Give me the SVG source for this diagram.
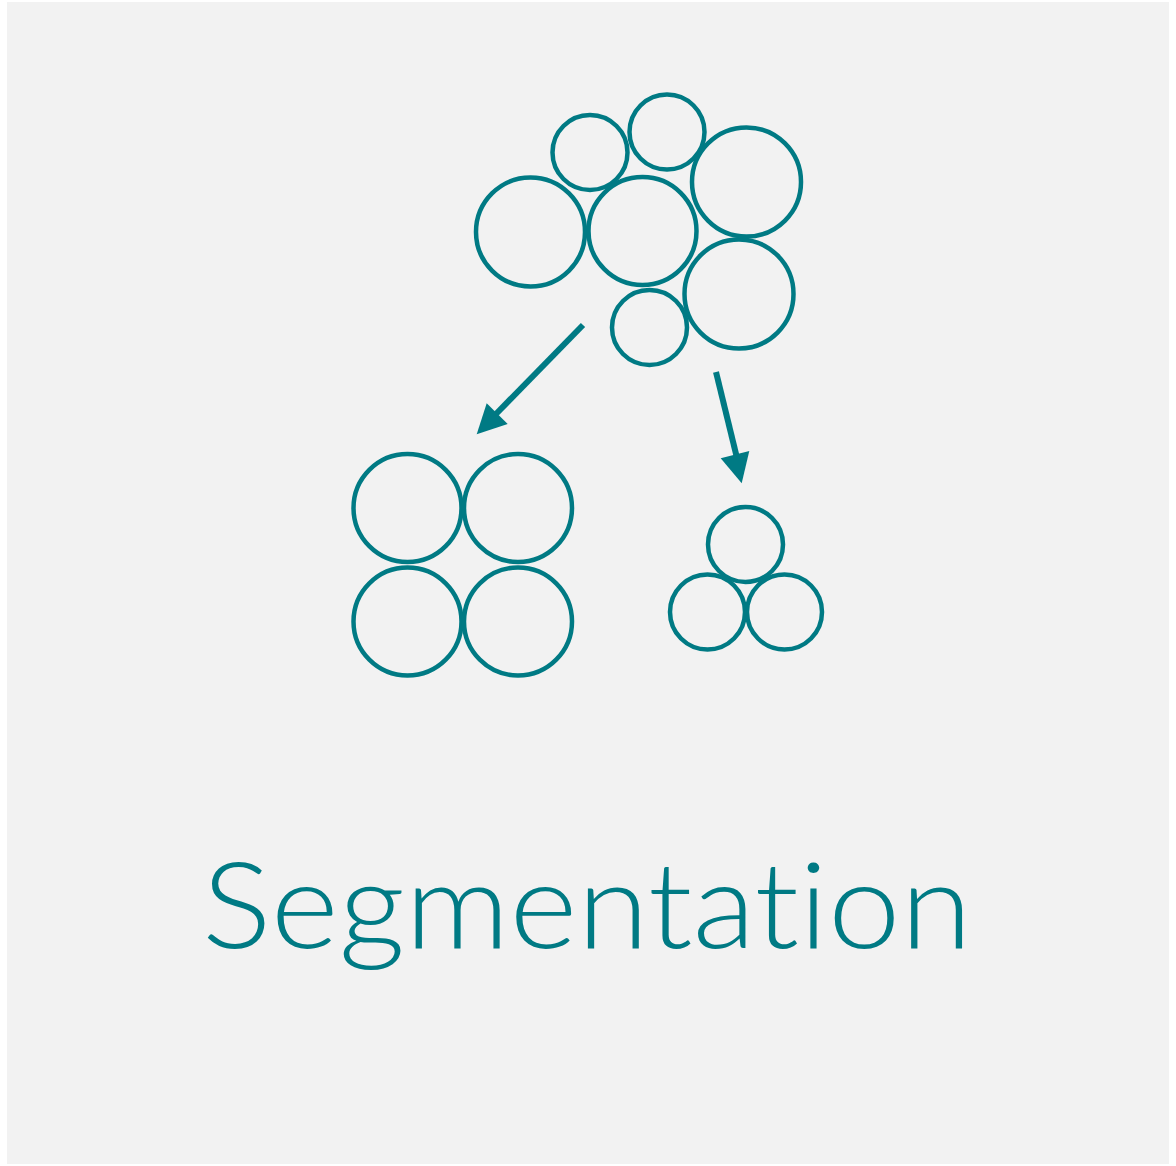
<svg xmlns="http://www.w3.org/2000/svg" width="1176" height="1166" viewBox="0 0 1176 1166">
<style>
.c{fill:none;stroke:#007a84;stroke-width:4.5}
.a{fill:none;stroke:#007a84;stroke-width:6}
.h{fill:#007a84}
.t{font-family:"Lato","Open Sans",sans-serif;font-size:121px;font-weight:300;fill:#007a84;font-variant-ligatures:none;font-feature-settings:"liga" 0}
</style>
<rect x="0" y="0" width="1176" height="1166" fill="#ffffff"/>
<rect x="7" y="2" width="1162" height="1162" fill="#f2f2f2"/>
<g id="cluster">
<circle class="c" cx="590" cy="152.5" r="37.5"/>
<circle class="c" cx="667" cy="132" r="37.5"/>
<circle class="c" cx="746.5" cy="182" r="54.5"/>
<circle class="c" cx="530.5" cy="232" r="54.5"/>
<circle class="c" cx="642.5" cy="231" r="54"/>
<circle class="c" cx="739" cy="294" r="54.5"/>
<circle class="c" cx="649.5" cy="327.5" r="37.5"/>
</g>
<g id="segment-a">
<circle class="c" cx="407.5" cy="508" r="54"/>
<circle class="c" cx="518" cy="508" r="54"/>
<circle class="c" cx="407.5" cy="621.5" r="54"/>
<circle class="c" cx="518" cy="621.5" r="54"/>
</g>
<g id="segment-b">
<circle class="c" cx="745.5" cy="544.5" r="37.5"/>
<circle class="c" cx="707.5" cy="612" r="37.5"/>
<circle class="c" cx="784.5" cy="612" r="37.5"/>
</g>
<g id="connectors">
<line class="a" x1="583" y1="325" x2="495" y2="415"/>
<polygon class="h" points="476.7,434.3 486.7,403.3 507.7,424"/>
<line class="a" x1="716" y1="372" x2="737" y2="458"/>
<polygon class="h" points="741.7,483.3 720.7,458.3 749.3,451"/>
</g>
<g id="label">
<text class="t" x="587" y="948" text-anchor="middle" textLength="770" lengthAdjust="spacingAndGlyphs">Segmentation</text>
</g>
</svg>
